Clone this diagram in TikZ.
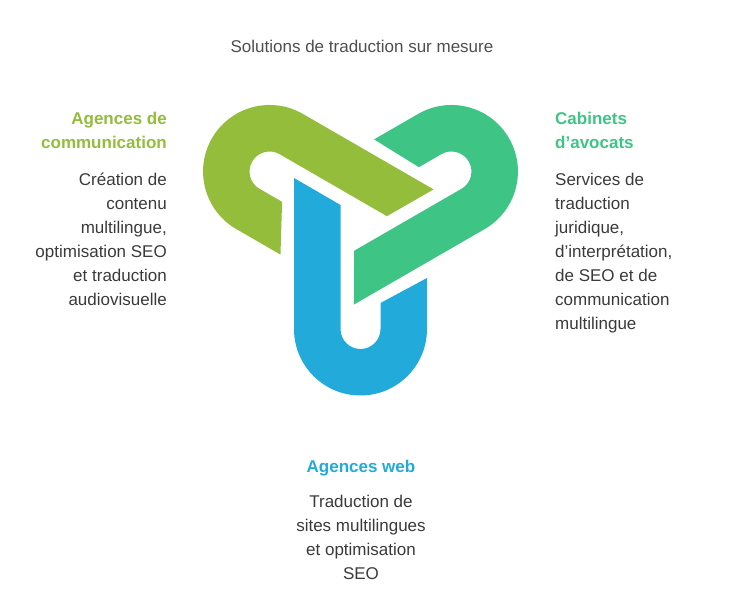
\documentclass[tikz,border=0pt]{standalone}
\usepackage{fontspec}
\setmainfont{Liberation Sans}
\definecolor{olive}{HTML}{93BD3A}
\definecolor{mint}{HTML}{3EC586}
\definecolor{sky}{HTML}{22AADB}
\definecolor{ink}{HTML}{3A3A3A}
\begin{document}
\begin{tikzpicture}[
	x=1pt,y=1pt,
	head/.style={font=\fontsize{17}{24}\selectfont\bfseries,inner sep=0pt},
	body/.style={font=\fontsize{17}{24}\selectfont,text=ink,inner sep=0pt},
	loop/.pic={\fill[#1] (-66.5,46) -- (-66.5,-105) arc (180:360:66.5) -- (66.5,-54)
		-- (20,-79) -- (20,-105) arc (0:-180:20) -- (-20,19) -- cycle;}
	]
	\useasboundingbox (0,0) rectangle (734,602);
	\node[body,anchor=north,text=ink!90] (title) at (362,562) {Solutions de traduction sur mesure};
	% the three interlocked loops
	\begin{scope}[shift={(360.5,378)}]
		\pic {loop=sky};
		\pic[rotate=-120] {loop=olive};
		\pic[rotate=120] {loop=mint};
	\end{scope}
	% left
	\node[head,text=olive,align=right,anchor=north east] (comm) at (167,490) {Agences de\\communication};
	\node[body,align=right,anchor=north east] (commtxt) at (167,429) {Création de\\contenu\\multilingue,\\optimisation SEO\\et traduction\\audiovisuelle};
	% right
	\node[head,text=mint,align=left,anchor=north west] (avoc) at (555,490) {Cabinets\\d'avocats};
	\node[body,align=left,anchor=north west] (avoctxt) at (555,429) {Services de\\traduction\\juridique,\\d'interprétation,\\de SEO et de\\communication\\multilingue};
	% bottom
	\node[head,text=sky,anchor=north] (web) at (361,142) {Agences web};
	\node[body,align=center,anchor=north] (webtxt) at (361,107) {Traduction de\\sites multilingues\\et optimisation\\SEO};
\end{tikzpicture}
\end{document}
